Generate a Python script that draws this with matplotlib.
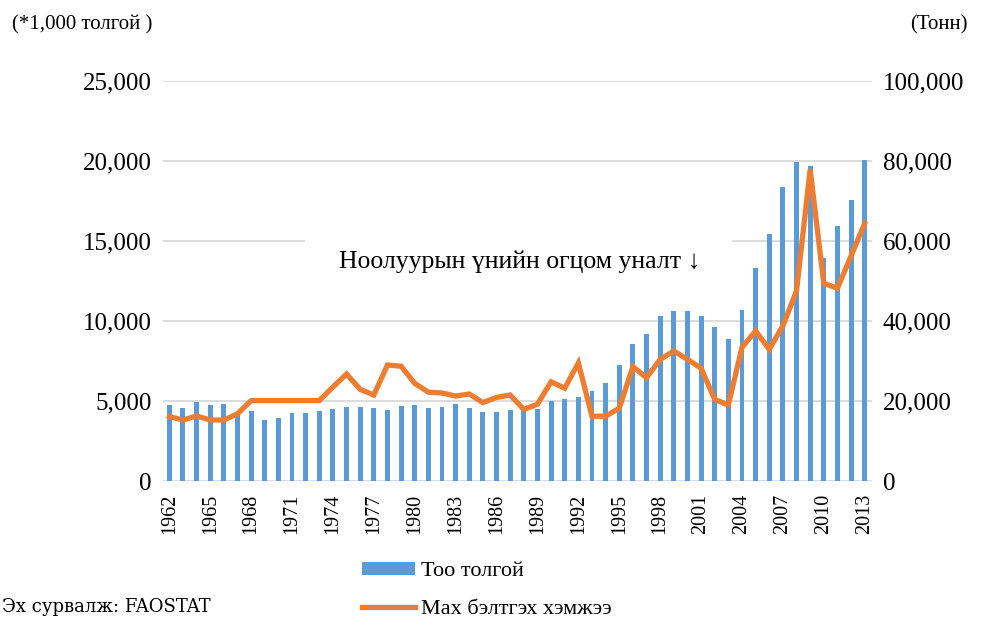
import matplotlib
matplotlib.use("Agg")
import matplotlib.pyplot as plt
import numpy as np
from matplotlib.patches import Rectangle
from matplotlib.lines import Line2D

years = list(range(1962, 2014))

# Livestock count, thousand heads (left axis)
herd_count = [
    4750, 4580, 4960, 4730, 4810, 4250, 4375, 3810, 3920, 4230,
    4230, 4375, 4480, 4600, 4630, 4560, 4440, 4710, 4730, 4580,
    4600, 4810, 4540, 4310, 4310, 4420, 4350, 4480, 4980, 5150,
    5250, 5630, 6150, 7280, 8560, 9170, 10310, 10630, 10630, 10310,
    9600, 8870, 10670, 13290, 15460, 18350, 19960, 19690, 13920, 15940,
    17560, 20060,
]

# Meat production, tonnes (right axis)
meat_output = [
    16100, 15250, 16250, 15250, 15250, 16800, 20100, 20100, 20100, 20100,
    20100, 20100, 23500, 26750, 22900, 21500, 29000, 28700, 24400, 22200,
    22000, 21250, 21750, 19600, 20900, 21500, 17900, 19200, 24800, 23200,
    29500, 16200, 16200, 18200, 28600, 25800, 30400, 32500, 30400, 28200,
    20400, 19000, 33400, 37500, 32900, 38800, 47500, 77900, 49400, 48200,
    56250, 64400,
]

left_ticks = [0, 5000, 10000, 15000, 20000, 25000]
right_ticks = [0, 20000, 40000, 60000, 80000, 100000]
year_ticks = list(range(1962, 2014, 3))

bar_color = "#5B9BD5"
line_color = "#ED7D31"
grid_color = "#D9D9D9"
serif = "Liberation Serif"

W, H = 981, 621
fig = plt.figure(figsize=(W / 100, H / 100), dpi=100)
x0, x1, y0, y1 = 162.5, 871.5, 481, 81
ax = fig.add_axes([x0 / W, 1 - y0 / H, (x1 - x0) / W, (y0 - y1) / H])
ax2 = ax.twinx()

ax.bar(years, herd_count, width=0.36, color=bar_color, zorder=2)
ax2.plot(years, meat_output, color=line_color, linewidth=3.8,
         solid_joinstyle="miter", zorder=3)

ax.set_xlim(years[0] - 0.5, years[-1] + 0.5)
ax.set_ylim(0, 25000)
ax2.set_ylim(0, 100000)

ax.set_yticks(left_ticks)
ax.set_yticklabels([f"{v:,}" for v in left_ticks])
ax2.set_yticks(right_ticks)
ax2.set_yticklabels([f"{v:,}" for v in right_ticks])
ax.set_xticks(year_ticks)
ax.set_xticklabels([str(y) for y in year_ticks], rotation=90)

for a in (ax, ax2):
    for s in a.spines.values():
        s.set_visible(False)
ax.tick_params(axis="y", length=0, pad=8, labelsize=18)
ax2.tick_params(axis="y", length=0, pad=8, labelsize=18)
ax.tick_params(axis="x", length=0, pad=9, labelsize=14.5)
for lab in ax.get_yticklabels() + ax2.get_yticklabels() + ax.get_xticklabels():
    lab.set_fontfamily(serif)

ax.grid(axis="y", color=grid_color, linewidth=1.3, zorder=0)
ax.set_axisbelow(True)

# White text box over the gridlines with the annotation
ax2.add_patch(Rectangle((0.201, 0.4775), 0.602, 0.15, transform=ax2.transAxes,
                        facecolor="white", edgecolor="none", zorder=1))
ax2.set_zorder(ax.get_zorder() + 1)
ax2.patch.set_visible(False)
ax2.text(0.5035, 0.5475, "Ноолуурын үнийн огцом уналт \u2193", transform=ax2.transAxes,
         ha="center", va="center", fontsize=18.5, family=[serif, "DejaVu Serif"],
         zorder=4)

fig.text(12 / W, 1 - 25 / H, "(*1,000 толгой )", ha="left", va="center",
         fontsize=15, family=serif)
fig.text(968 / W, 1 - 25 / H, "(Тонн)", ha="right", va="center",
         fontsize=15, family=serif)

fig.text(2 / W, 1 - 607 / H, "Эх сурвалж: FAOSTAT", ha="left", va="center",
         fontsize=13, family="DejaVu Serif")

handles = [
    Rectangle((0, 0), 1, 1, facecolor=bar_color, edgecolor="none"),
    Line2D([0], [0], color=line_color, linewidth=3.8),
]
leg = fig.legend(handles, ["Тоо толгой", "Мах бэлтгэх хэмжээ"],
                 loc="upper left", bbox_to_anchor=(362 / W, 1 - 562 / H),
                 frameon=False, borderpad=0, borderaxespad=0,
                 handlelength=2.4, handleheight=0.5, handletextpad=0.25,
                 labelspacing=0.85, prop={"family": serif, "size": 16})

fig.savefig("out.png", dpi=100)
